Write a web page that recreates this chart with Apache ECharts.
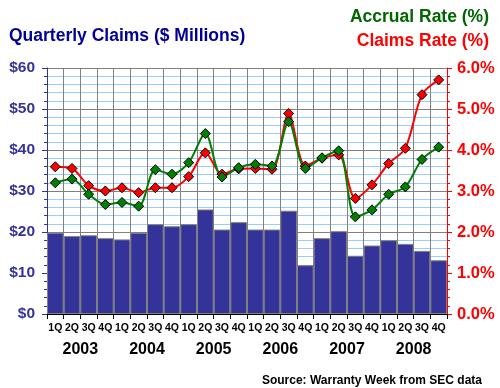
<!DOCTYPE html>
<html><head><meta charset="utf-8">
<script src="https://cdn.jsdelivr.net/npm/echarts@6/dist/echarts.min.js"></script>
<style>html,body{margin:0;padding:0;background:#fff;}#c{width:500px;height:388px;}</style>
</head><body><div id="c"></div>
<script>
const quarters = ["1Q","2Q","3Q","4Q","1Q","2Q","3Q","4Q","1Q","2Q","3Q","4Q","1Q","2Q","3Q","4Q","1Q","2Q","3Q","4Q","1Q","2Q","3Q","4Q"];
const years = ["2003","2004","2005","2006","2007","2008"];
const claims = [19.8,19.0,19.2,18.5,18.2,19.8,21.9,21.4,21.9,25.5,20.6,22.4,20.6,20.6,25.2,11.9,18.5,20.2,14.2,16.7,18.0,17.1,15.4,13.1];
const claimsRate = [3.59,3.55,3.13,3.00,3.08,2.96,3.08,3.08,3.35,3.93,3.41,3.54,3.55,3.53,4.89,3.61,3.80,3.88,2.82,3.15,3.67,4.04,5.35,5.71];
const accrualRate = [3.20,3.29,2.92,2.67,2.72,2.63,3.52,3.41,3.69,4.40,3.34,3.57,3.65,3.61,4.69,3.55,3.81,3.98,2.37,2.54,2.92,3.10,3.77,4.07];
const leftTicks = [0,10,20,30,40,50,60];
const rightTicks = [0,1,2,3,4,5,6];

const FF = "'Liberation Sans', Arial, sans-serif";
const chart = echarts.init(document.getElementById('c'), null, {renderer:'canvas'});
chart.setOption({
  animation:false,
  backgroundColor:'#fff',
  textStyle:{fontFamily:FF},
  title:[
    {text:'Quarterly Claims ($ Millions)', left:4, top:22, textStyle:{fontFamily:FF,fontSize:17.5,fontWeight:'bold',color:'#000099'}},
    {text:'Accrual Rate (%)', right:6, top:3, textStyle:{fontFamily:FF,fontSize:17.5,fontWeight:'bold',color:'#006600'}},
    {text:'Claims Rate (%)', right:6, top:27, textStyle:{fontFamily:FF,fontSize:17.5,fontWeight:'bold',color:'#ff0000'}},
    {text:'Source: Warranty Week from SEC data', right:13, top:370, textStyle:{fontFamily:FF,fontSize:12,fontWeight:'bold',color:'#000'}}
  ],
  grid:{left:47, right:53, top:68, bottom:74, containLabel:false},
  xAxis:[
    {type:'category', data:quarters, position:'bottom', boundaryGap:true,
     axisLine:{lineStyle:{color:'#000',width:1}},
     axisTick:{show:true, length:5, lineStyle:{color:'#000'}},
     axisLabel:{interval:0, fontSize:10.5, fontWeight:'bold', color:'#000', margin:9, fontFamily:FF},
     splitLine:{show:true, interval:0, lineStyle:{color:'#808080',width:1}}},
    {type:'category', data:years, position:'bottom', offset:20, boundaryGap:true,
     axisLine:{show:false}, axisTick:{show:false}, splitLine:{show:false},
     axisLabel:{interval:0, fontSize:16, fontWeight:'bold', color:'#000', margin:8, fontFamily:FF}}
  ],
  yAxis:[
    {type:'value', min:leftTicks[0], max:leftTicks[leftTicks.length-1], interval:10, position:'left',
     axisLine:{show:true, lineStyle:{color:'#333399',width:1}},
     axisTick:{show:true, length:5, lineStyle:{color:'#333399'}},
     minorTick:{show:true, splitNumber:5, length:3, lineStyle:{color:'#333399'}},
     axisLabel:{formatter:v=>'$'+v, fontSize:15.5, fontWeight:'bold', color:'#333399', margin:12, fontFamily:FF},
     splitLine:{show:true, lineStyle:{color:'#808080',width:1}},
     minorSplitLine:{show:true, lineStyle:{color:'#99ccff',width:1}}},
    {type:'value', min:rightTicks[0], max:rightTicks[rightTicks.length-1], interval:1, position:'right',
     axisLine:{show:true, lineStyle:{color:'#ff0000',width:1}},
     axisTick:{show:true, length:5, lineStyle:{color:'#ff0000'}},
     minorTick:{show:true, splitNumber:5, length:3, lineStyle:{color:'#ff0000'}},
     axisLabel:{formatter:v=>v.toFixed(1)+'%', fontSize:16.5, fontWeight:'bold', color:'#ff0000', margin:10, fontFamily:FF},
     splitLine:{show:false}}
  ],
  series:[
    {type:'bar', data:claims, xAxisIndex:0, yAxisIndex:0, barCategoryGap:'0%',
     itemStyle:{color:'#333399', borderColor:'#808080', borderWidth:1}},
    {type:'line', data:claimsRate, xAxisIndex:0, yAxisIndex:1, smooth:0.3,
     lineStyle:{color:'#ff0000',width:2}, symbol:'diamond', symbolSize:10,
     itemStyle:{color:'#ff0000', borderColor:'#000', borderWidth:1}},
    {type:'line', data:accrualRate, xAxisIndex:0, yAxisIndex:1, smooth:0.3,
     lineStyle:{color:'#008000',width:2}, symbol:'diamond', symbolSize:10,
     itemStyle:{color:'#008000', borderColor:'#000', borderWidth:1}}
  ]
});
</script></body></html>
